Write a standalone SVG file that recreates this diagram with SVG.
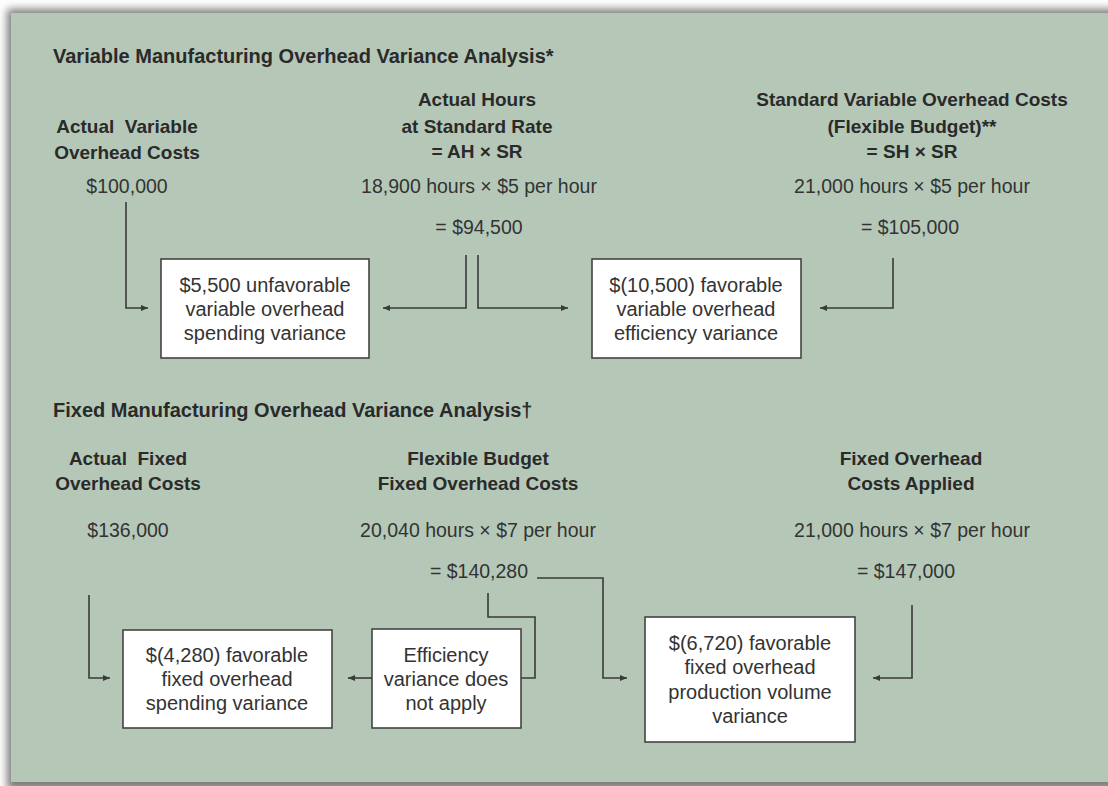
<svg xmlns="http://www.w3.org/2000/svg" width="1108" height="786" viewBox="0 0 1108 786">
<defs>
<style>
.ti{font-family:"Liberation Sans",Arial,sans-serif;font-weight:bold;font-size:20px;fill:#2a2a2a}
.h{font-family:"Liberation Sans",Arial,sans-serif;font-weight:bold;font-size:19px;fill:#2a2a2a;text-anchor:middle}
.v{font-family:"Liberation Sans",Arial,sans-serif;font-size:19.5px;fill:#333;text-anchor:middle}
.bt{font-family:"Liberation Sans",Arial,sans-serif;font-size:20px;fill:#333;text-anchor:middle}
.box{fill:#ffffff;stroke:#444;stroke-width:1.6}
.con{fill:none;stroke:#3a3a3a;stroke-width:1.6}
.arr{marker-end:url(#ah)}
</style>
<marker id="ah" markerUnits="userSpaceOnUse" markerWidth="8" markerHeight="6" refX="7" refY="3" orient="auto">
<path d="M0,0 L7,3 L0,6 z" fill="#3a3a3a"/>
</marker>
<filter id="sh" x="-5%" y="-5%" width="110%" height="110%">
<feGaussianBlur stdDeviation="4"/>
</filter>
</defs>
<rect x="0" y="0" width="1108" height="786" fill="#ffffff"/>
<rect x="7" y="9" width="1120" height="781" fill="#7c7c7c" filter="url(#sh)"/>
<rect x="11" y="13" width="1110" height="769" fill="#b5c8b8"/>

<g id="title-variable"><text class="ti" x="53" y="63">Variable Manufacturing Overhead Variance Analysis*</text></g>

<g id="actual-variable">
<text class="h" x="127" y="133">Actual&#160; Variable</text>
<text class="h" x="127" y="159">Overhead Costs</text>
<text class="v" x="127" y="193">$100,000</text>
</g>
<g id="ah-sr">
<text class="h" x="477" y="106">Actual Hours</text>
<text class="h" x="477" y="133">at Standard Rate</text>
<text class="h" x="477" y="158">= AH × SR</text>
<text class="v" x="479" y="193">18,900 hours × $5 per hour</text>
<text class="v" x="479" y="234">= $94,500</text>
</g>
<g id="sh-sr">
<text class="h" x="912" y="106">Standard Variable Overhead Costs</text>
<text class="h" x="912" y="133">(Flexible Budget)**</text>
<text class="h" x="912" y="158">= SH × SR</text>
<text class="v" x="912" y="193">21,000 hours × $5 per hour</text>
<text class="v" x="910" y="234">= $105,000</text>
</g>
<g id="var-spending">
<rect class="box" x="161" y="259" width="208" height="99"/>
<text class="bt" x="265" y="292">$5,500 unfavorable</text>
<text class="bt" x="265" y="316">variable overhead</text>
<text class="bt" x="265" y="340">spending variance</text>
</g>
<g id="var-efficiency">
<rect class="box" x="592" y="259" width="209" height="99"/>
<text class="bt" x="696" y="292">$(10,500) favorable</text>
<text class="bt" x="696" y="316">variable overhead</text>
<text class="bt" x="696" y="340">efficiency variance</text>
</g>

<g id="title-fixed"><text class="ti" x="53" y="417">Fixed Manufacturing Overhead Variance Analysis†</text></g>

<g id="actual-fixed">
<text class="h" x="128" y="465">Actual&#160; Fixed</text>
<text class="h" x="128" y="490">Overhead Costs</text>
<text class="v" x="128" y="537">$136,000</text>
</g>
<g id="flex-fixed">
<text class="h" x="478" y="465">Flexible Budget</text>
<text class="h" x="478" y="490">Fixed Overhead Costs</text>
<text class="v" x="478" y="537">20,040 hours × $7 per hour</text>
<text class="v" x="479" y="578">= $140,280</text>
</g>
<g id="fixed-applied">
<text class="h" x="911" y="465">Fixed Overhead</text>
<text class="h" x="911" y="490">Costs Applied</text>
<text class="v" x="912" y="537">21,000 hours × $7 per hour</text>
<text class="v" x="906" y="578">= $147,000</text>
</g>
<g id="fixed-spending">
<rect class="box" x="123" y="630" width="209" height="98"/>
<text class="bt" x="227" y="662">$(4,280) favorable</text>
<text class="bt" x="227" y="686">fixed overhead</text>
<text class="bt" x="227" y="710">spending variance</text>
</g>
<g id="efficiency-na">
<rect class="box" x="372" y="629" width="149" height="99"/>
<text class="bt" x="446" y="662">Efficiency</text>
<text class="bt" x="446" y="686">variance does</text>
<text class="bt" x="446" y="710">not apply</text>
</g>
<g id="volume">
<rect class="box" x="645" y="617" width="210" height="125"/>
<text class="bt" x="750" y="650">$(6,720) favorable</text>
<text class="bt" x="750" y="674">fixed overhead</text>
<text class="bt" x="750" y="699">production volume</text>
<text class="bt" x="750" y="723">variance</text>
</g>

<g id="connectors">
<path class="con arr" d="M126,202 V308 H148"/>
<path class="con arr" d="M466,255 V308 H383"/>
<path class="con arr" d="M478,255 V308 H568"/>
<path class="con arr" d="M893,258 V308 H820"/>
<path class="con arr" d="M89,595 V678 H110"/>
<path class="con" d="M488,593 V617 H535 V678 H521"/>
<path class="con arr" d="M372,678 H348"/>
<path class="con arr" d="M537,578 H603 V678 H627"/>
<path class="con arr" d="M912,605 V678 H873"/>
</g>
</svg>
